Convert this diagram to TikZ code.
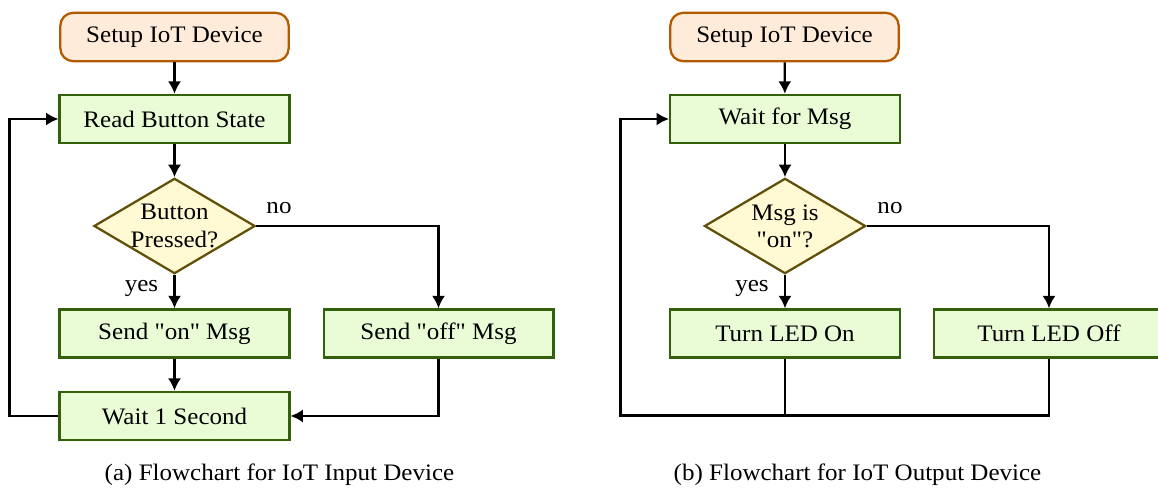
\documentclass[tikz,border=0pt]{standalone}
\usepackage{fontspec}
\setmainfont{Liberation Serif}[Scale=1.04, FakeStretch=1.06, Ligatures=TeXOff]
\usetikzlibrary{shapes.geometric,arrows.meta}
\definecolor{startfill}{RGB}{255,235,217}
\definecolor{startdraw}{RGB}{179,89,0}
\definecolor{procfill}{RGB}{234,252,214}
\definecolor{procdraw}{RGB}{51,96,10}
\definecolor{decfill}{RGB}{255,249,212}
\definecolor{decdraw}{RGB}{96,80,10}
\tikzset{
  startbox/.style={rectangle, rounded corners=5.7pt, draw=startdraw, fill=startfill, line width=1pt, minimum width=100.6pt, minimum height=21.3pt, inner sep=0pt},
  procbox/.style={rectangle, draw=procdraw, fill=procfill, line width=1pt, minimum width=101.2pt, minimum height=21.2pt, inner sep=0pt},
  decbox/.style={diamond, draw=decdraw, fill=decfill, line width=1pt, aspect=1.68, inner sep=0pt, minimum width=71pt, minimum height=42pt, align=center},
  flow/.style={line width=1pt, -{Latex[length=5.5pt,width=5.8pt]}},
  plainline/.style={line width=1pt},
  lbl/.style={anchor=base, inner sep=0pt},
}
\begin{document}
\begin{tikzpicture}[x=0.4405pt, y=-0.4405pt]
  \clip (0,0) rectangle (1158,489);
  % ---- (a) input device ----
  \node[startbox] (s1) at (174.5,37) {Setup IoT Device};
  \node[procbox] (r1) at (174.5,119) {Read Button State};
  \node[decbox] (d1) at (174.5,226) {Button\\Pressed?};
  \node[procbox] (on1) at (174.5,333.5) {Send "on" Msg};
  \node[procbox] (off1) at (438.5,333.5) {Send "off" Msg};
  \node[procbox] (w1) at (174.5,416) {Wait 1 Second};
  \coordinate (l1) at (9.5,416);
  \draw[flow] (s1) -- (r1);
  \draw[flow] (r1) -- (d1);
  \draw[flow] (d1) -- (on1);
  \draw[flow] (d1.east) -| (off1.north);
  \draw[flow] (on1) -- (w1);
  \draw[flow] (off1.south) |- (w1.east);
  \draw[flow] (w1.west) -- (l1) |- (r1.west);
  \node[lbl] (no1) at (279,214) {no};
  \node[lbl] (yes1) at (141.5,291.5) {yes};
  \node[lbl] (capa) at (279.5,480.5) {(a) Flowchart for IoT Input Device};
  % ---- (b) output device ----
  \node[startbox] (s2) at (784.5,37) {Setup IoT Device};
  \node[procbox] (wm) at (785,119) {Wait for Msg};
  \node[decbox] (d2) at (785,226) {Msg is\\"on"?};
  \node[procbox] (ledon) at (785,333.5) {Turn LED On};
  \node[procbox] (ledoff) at (1049,333.5) {Turn LED Off};
  \coordinate (l2) at (620.5,415.5);
  \draw[flow] (s2) -- (wm);
  \draw[flow] (wm) -- (d2);
  \draw[flow] (d2) -- (ledon);
  \draw[flow] (d2.east) -| (ledoff.north);
  \draw[plainline] (ledon.south) -- (ledon.south |- l2);
  \draw[flow] (ledoff.south) |- (l2) |- (wm.west);
  \node[lbl] (no2) at (890,214) {no};
  \node[lbl] (yes2) at (752,291.5) {yes};
  \node[lbl] (capb) at (857.5,480.5) {(b) Flowchart for IoT Output Device};
\end{tikzpicture}
\end{document}
